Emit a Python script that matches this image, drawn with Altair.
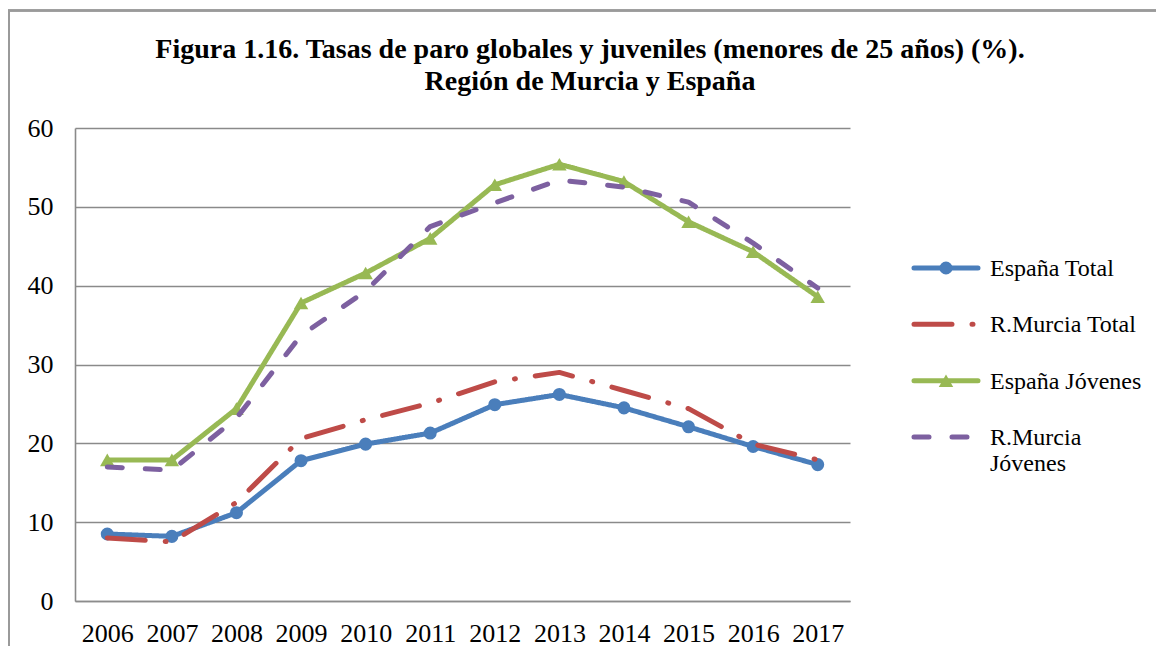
import altair as alt
import pandas as pd

years = [str(y) for y in range(2006, 2018)]
espana_total = [8.5, 8.2, 11.2, 17.8, 19.9, 21.3, 24.9, 26.2, 24.5, 22.1, 19.6, 17.3]
murcia_total = [8.0, 7.5, 12.5, 20.6, 23.0, 25.1, 27.8, 29.0, 26.7, 24.4, 19.9, 17.9]
espana_jov = [17.9, 17.9, 24.4, 37.8, 41.6, 46.0, 52.8, 55.4, 53.2, 48.1, 44.3, 38.6]
murcia_jov = [17.0, 16.6, 23.2, 33.7, 39.3, 47.5, 50.5, 53.4, 52.5, 50.6, 45.4, 39.7]

series = ["España Total", "R.Murcia Total", "España Jóvenes", "R.Murcia Jóvenes"]
legend_labels = ["España Total", "R.Murcia Total", "España Jóvenes", "R.Murcia\nJóvenes"]
colors = ["#4A7EBB", "#BE4B48", "#98B954", "#7D60A0"]
dashes = [[1, 0], [38, 20, 1, 20], [1, 0], [15, 23]]
marker_series = ["España Total", "España Jóvenes"]
marker_shapes = ["circle", "triangle-up"]
marker_sizes = [170, 210]

title_text = ("Figura 1.16. Tasas de paro globales y juveniles (menores de 25 años) (%).\n"
              "Región de Murcia y España")

rows = []
for name, vals in zip(series, [espana_total, murcia_total, espana_jov, murcia_jov]):
    for yr, v in zip(years, vals):
        rows.append({"year": yr, "serie": name, "value": v})
df = pd.DataFrame(rows)
leg_df = pd.DataFrame({"serie": series, "label": legend_labels})
title_df = pd.DataFrame({"t": [title_text]})

FONT = "Liberation Serif"
color_enc = alt.Color("serie:N", scale=alt.Scale(domain=series, range=colors), legend=None)
dash_enc = alt.StrokeDash("serie:N", scale=alt.Scale(domain=series, range=dashes), legend=None)
shape_enc = alt.Shape("serie:N", scale=alt.Scale(domain=marker_series, range=marker_shapes), legend=None)
size_enc = alt.Size("serie:N", scale=alt.Scale(type="ordinal", domain=marker_series, range=marker_sizes),
                    legend=None)

x_enc = alt.X("year:O", scale=alt.Scale(domain=years),
              axis=alt.Axis(title=None, labelAngle=0, ticks=False, grid=False,
                            domainColor="#8c8c8c", domainWidth=1.5,
                            labelFont=FONT, labelFontSize=26, labelColor="black",
                            labelPadding=19))

y_axis = alt.Axis(title=None, values=[0, 10, 20, 30, 40, 50, 60], ticks=False,
                  grid=True, gridColor="#8a8a8a", gridWidth=1.6,
                  domainColor="#8a8a8a", domainWidth=1.6,
                  labelFont=FONT, labelFontSize=26, labelColor="black",
                  labelPadding=22)
y_enc = alt.Y("value:Q", scale=alt.Scale(domain=[0, 60], nice=False), axis=y_axis)

base = alt.Chart(df)
main_layers = []
for name in series:
    ln = base.transform_filter(alt.datum.serie == name).mark_line(
        strokeWidth=5, strokeCap="round", strokeJoin="round"
    ).encode(x=x_enc, y=y_enc, color=color_enc, strokeDash=dash_enc)
    main_layers.append(ln)
    if name in marker_series:
        pt = base.transform_filter(alt.datum.serie == name).mark_point(
            filled=True, opacity=1
        ).encode(x=x_enc, y=y_enc, color=color_enc, shape=shape_enc, size=size_enc)
        main_layers.append(pt)
main = alt.layer(*main_layers)

yleg = alt.Y("serie:N", scale=alt.Scale(type="point", domain=series, range=[140, 309], padding=0),
             axis=None)
lbase = alt.Chart(leg_df)
leg_lines = lbase.mark_rule(strokeWidth=5, strokeCap="round").encode(
    x=alt.value(839), x2=alt.value(903), y=yleg, color=color_enc, strokeDash=dash_enc)
leg_pts = lbase.transform_filter(
    alt.FieldOneOfPredicate(field="serie", oneOf=marker_series)
).mark_point(filled=True, opacity=1).encode(
    x=alt.value(871), y=yleg, color=color_enc, shape=shape_enc, size=size_enc)
leg_text = lbase.mark_text(align="left", baseline="alphabetic", dy=8, font=FONT,
                           fontSize=24, color="black", lineBreak="\n", lineHeight=26).encode(
    x=alt.value(915), y=yleg, text="label:N")
legend = alt.layer(leg_lines, leg_pts, leg_text)

title = alt.Chart(title_df).mark_text(align="center", baseline="alphabetic", font=FONT,
                                      fontSize=28, fontWeight="bold", color="black",
                                      lineBreak="\n", lineHeight=32).encode(
    x=alt.value(515), y=alt.value(-70), text="t:N")

frame_top = alt.Chart(leg_df).mark_rule(color="#9a9a9a", strokeWidth=2).encode(
    x=alt.value(-67), x2=alt.value(1100), y=alt.value(-117.5))
frame_left = alt.Chart(leg_df).mark_rule(color="#9a9a9a", strokeWidth=2).encode(
    x=alt.value(-66), y=alt.value(-118), y2=alt.value(560))
frame = alt.layer(frame_top, frame_left, title)

chart = alt.layer(main, legend, frame).resolve_scale(y="independent").properties(
    width=775, height=473,
    autosize=alt.AutoSizeParams(type="none"),
    padding={"left": 67, "top": 120, "right": 306, "bottom": 45},
).configure(background="white", view=alt.ViewConfig(stroke=None))

chart.save("out.html", embed_options={"renderer": "svg", "actions": False})
